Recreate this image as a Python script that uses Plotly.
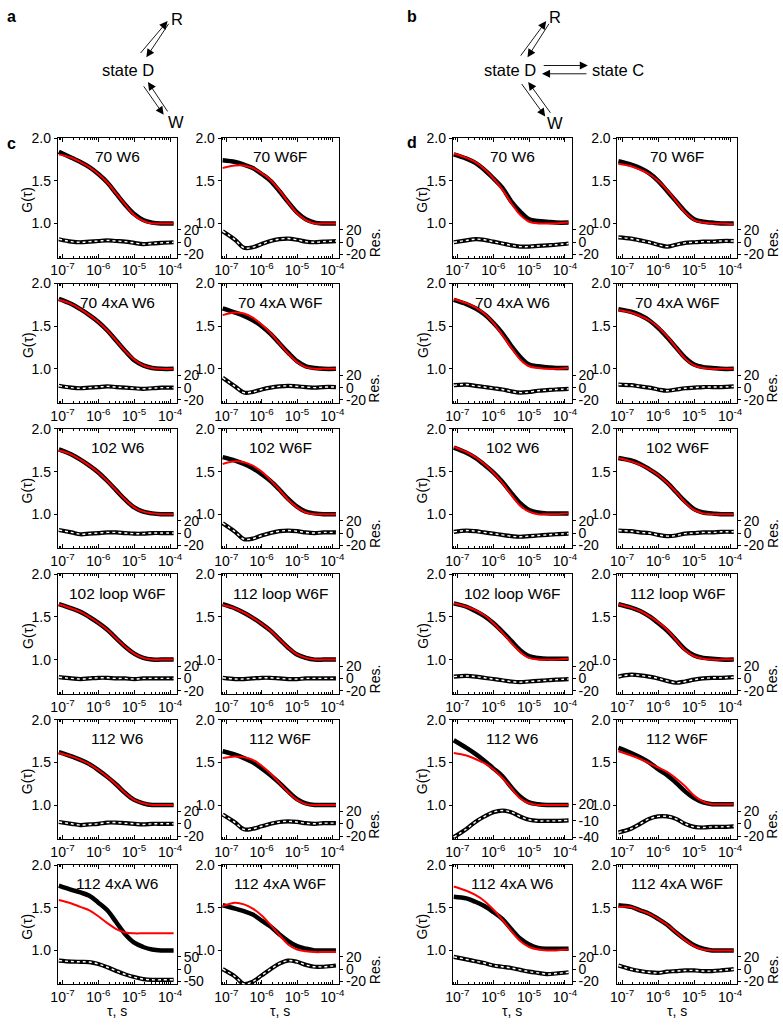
import plotly.graph_objects as go

W, H = 783, 1026
FONT = "Liberation Sans, Arial, sans-serif"

# ---------------- data ----------------
# lag times, s
TAU = [7.9e-8, 1.78e-7, 3.16e-7, 5.62e-7, 1.0e-6, 1.78e-6, 3.16e-6, 5.62e-6,
       1.0e-5, 1.78e-5, 3.16e-5, 5.62e-5, 1.26e-4]

X_TICKS = [1e-7, 1e-6, 1e-5, 1e-4]
X_TICK_TEXT = ["10<sup>-7</sup>", "10<sup>-6</sup>", "10<sup>-5</sup>", "10<sup>-4</sup>"]
G_TICKS = [1.0, 1.5, 2.0]
RES_TICKS_STD = [-20, 0, 20]
RES_TICKS_C6L = [-50, 0, 50]
RES_TICKS_D5L = [-40, -10, 20]

TITLES = ["70 W6", "70 W6F", "70 4xA W6", "70 4xA W6F", "102 W6", "102 W6F",
          "102 loop W6F", "112 loop W6F", "112 W6", "112 W6F", "112 4xA W6", "112 4xA W6F"]

# ---- panel c ----
c1L_G   = [1.84, 1.77, 1.72, 1.66, 1.58, 1.48, 1.35, 1.22, 1.11, 1.04, 1.01, 1.00, 1.00]
c1L_fit = [1.81, 1.77, 1.72, 1.66, 1.58, 1.48, 1.35, 1.22, 1.10, 1.03, 1.00, 1.00, 1.00]
c1L_res = [5, 1, 0, 1, 2, 3, 2, 1, -1, -3, -2, -1, 0]

c1R_G   = [1.74, 1.72, 1.69, 1.65, 1.58, 1.50, 1.38, 1.25, 1.13, 1.05, 1.01, 1.00, 1.00]
c1R_fit = [1.65, 1.68, 1.68, 1.65, 1.59, 1.51, 1.39, 1.25, 1.12, 1.04, 1.00, 1.00, 1.00]
c1R_res = [18, 4, -9, -8, -3, 2, 5, 6, 4, 1, 0, 1, 2]

c2L_G   = [1.82, 1.76, 1.70, 1.63, 1.55, 1.45, 1.33, 1.21, 1.10, 1.04, 1.01, 1.00, 1.00]
c2L_fit = [1.81, 1.76, 1.70, 1.63, 1.55, 1.45, 1.33, 1.21, 1.11, 1.04, 1.01, 1.00, 1.00]
c2L_res = [3, 0, -1, 0, 1, 2, 1, 0, -1, -2, -1, 0, 0]

c2R_G   = [1.71, 1.66, 1.62, 1.57, 1.50, 1.41, 1.30, 1.19, 1.09, 1.03, 1.01, 1.00, 1.00]
c2R_fit = [1.63, 1.66, 1.65, 1.60, 1.52, 1.42, 1.30, 1.18, 1.08, 1.02, 1.00, 1.00, 1.00]
c2R_res = [16, 2, -8, -7, -3, 0, 2, 3, 2, 1, 0, 1, 1]

c3L_G   = [1.76, 1.70, 1.64, 1.57, 1.49, 1.39, 1.28, 1.17, 1.08, 1.03, 1.01, 1.00, 1.00]
c3L_fit = [1.75, 1.70, 1.64, 1.57, 1.49, 1.39, 1.28, 1.17, 1.08, 1.03, 1.01, 1.00, 1.00]
c3L_res = [5, 1, -2, -1, 0, 1, 1, 0, -1, -1, 0, 0, 0]

c3R_G   = [1.67, 1.63, 1.59, 1.54, 1.47, 1.39, 1.29, 1.18, 1.09, 1.03, 1.01, 1.00, 1.00]
c3R_fit = [1.59, 1.62, 1.61, 1.57, 1.50, 1.40, 1.29, 1.17, 1.08, 1.02, 1.00, 1.00, 1.00]
c3R_res = [16, 2, -10, -9, -4, 0, 3, 4, 3, 1, 0, 1, 1]

c4L_G   = [1.65, 1.60, 1.56, 1.50, 1.43, 1.35, 1.25, 1.15, 1.07, 1.02, 1.00, 1.00, 1.00]
c4L_fit = [1.65, 1.60, 1.56, 1.50, 1.43, 1.35, 1.25, 1.15, 1.07, 1.02, 1.00, 1.00, 1.00]
c4L_res = [2, 0, -1, 0, 1, 1, 0, 0, -1, 0, 0, 0, 0]

c4R_G   = [1.65, 1.60, 1.55, 1.49, 1.42, 1.34, 1.24, 1.14, 1.06, 1.02, 1.00, 1.00, 1.00]
c4R_fit = [1.64, 1.60, 1.55, 1.49, 1.42, 1.34, 1.24, 1.14, 1.06, 1.02, 1.00, 1.00, 1.00]
c4R_res = [1, -1, -1, 0, 1, 1, 0, -1, -1, 0, 0, 0, 0]

c5L_G   = [1.62, 1.57, 1.53, 1.48, 1.41, 1.33, 1.24, 1.14, 1.06, 1.02, 1.00, 1.00, 1.00]
c5L_fit = [1.61, 1.57, 1.53, 1.48, 1.41, 1.33, 1.24, 1.14, 1.06, 1.02, 1.00, 1.00, 1.00]
c5L_res = [3, 0, -2, -1, 0, 2, 2, 1, 0, -1, 0, 0, 0]

c5R_G   = [1.63, 1.59, 1.55, 1.50, 1.43, 1.35, 1.26, 1.16, 1.07, 1.02, 1.00, 1.00, 1.00]
c5R_fit = [1.55, 1.57, 1.56, 1.53, 1.46, 1.37, 1.26, 1.15, 1.06, 1.01, 1.00, 1.00, 1.00]
c5R_res = [15, 2, -9, -8, -4, 0, 3, 4, 3, 1, 0, 1, 1]

c6L_G   = [1.76, 1.71, 1.68, 1.64, 1.56, 1.47, 1.33, 1.19, 1.09, 1.04, 1.01, 1.00, 1.00]
c6L_fit = [1.59, 1.55, 1.51, 1.47, 1.40, 1.32, 1.25, 1.21, 1.20, 1.20, 1.20, 1.20, 1.20]
c6L_res = [35, 31, 30, 29, 21, 8, -7, -21, -32, -40, -43, -43, -43]

c6R_G   = [1.53, 1.49, 1.46, 1.42, 1.35, 1.28, 1.19, 1.11, 1.05, 1.02, 1.00, 1.00, 1.00]
c6R_fit = [1.52, 1.56, 1.54, 1.49, 1.41, 1.30, 1.18, 1.07, 1.01, 0.99, 0.98, 0.98, 0.98]
c6R_res = [0, -12, -24, -20, -10, 0, 9, 14, 12, 7, 4, 4, 6]

# ---- panel d ----
d1L_G   = [1.81, 1.76, 1.71, 1.63, 1.53, 1.42, 1.26, 1.14, 1.05, 1.03, 1.02, 1.01, 1.01]
d1L_fit = [1.82, 1.77, 1.72, 1.64, 1.53, 1.40, 1.24, 1.10, 1.02, 1.00, 1.00, 1.00, 1.01]
d1L_res = [0, 3, 5, 4, 1, -2, -5, -7, -7, -6, -5, -4, -2]

d1R_G   = [1.73, 1.69, 1.65, 1.59, 1.50, 1.38, 1.26, 1.14, 1.05, 1.02, 1.01, 1.00, 1.00]
d1R_fit = [1.70, 1.67, 1.63, 1.58, 1.50, 1.39, 1.26, 1.13, 1.04, 1.01, 1.00, 1.00, 0.99]
d1R_res = [8, 6, 3, 0, -4, -7, -4, -1, 0, 1, 1, 2, 2]

d2L_G   = [1.81, 1.76, 1.71, 1.64, 1.54, 1.42, 1.27, 1.14, 1.05, 1.03, 1.02, 1.01, 1.01]
d2L_fit = [1.82, 1.77, 1.72, 1.65, 1.54, 1.40, 1.25, 1.11, 1.03, 1.01, 1.00, 1.00, 1.01]
d2L_res = [4, 5, 3, 1, -1, -3, -6, -8, -7, -5, -4, -3, -2]

d2R_G   = [1.70, 1.67, 1.63, 1.57, 1.48, 1.37, 1.25, 1.13, 1.05, 1.02, 1.01, 1.00, 1.00]
d2R_fit = [1.69, 1.66, 1.62, 1.57, 1.49, 1.38, 1.25, 1.12, 1.04, 1.01, 1.00, 1.00, 1.00]
d2R_res = [5, 4, 2, 0, -3, -5, -3, -1, 0, 1, 1, 1, 2]

d3L_G   = [1.78, 1.72, 1.66, 1.58, 1.49, 1.38, 1.25, 1.13, 1.05, 1.02, 1.01, 1.01, 1.01]
d3L_fit = [1.79, 1.73, 1.67, 1.59, 1.49, 1.37, 1.23, 1.10, 1.03, 1.00, 1.00, 1.00, 1.01]
d3L_res = [2, 4, 3, 1, -1, -3, -5, -6, -5, -4, -3, -2, -1]

d3R_G   = [1.66, 1.63, 1.59, 1.53, 1.46, 1.37, 1.26, 1.15, 1.06, 1.02, 1.01, 1.00, 1.00]
d3R_fit = [1.66, 1.62, 1.58, 1.53, 1.46, 1.37, 1.26, 1.14, 1.05, 1.01, 1.00, 1.00, 1.00]
d3R_res = [4, 3, 1, 0, -3, -5, -4, -1, 0, 1, 1, 2, 2]

d4L_G   = [1.66, 1.62, 1.57, 1.51, 1.43, 1.33, 1.22, 1.11, 1.04, 1.02, 1.01, 1.01, 1.01]
d4L_fit = [1.66, 1.62, 1.58, 1.52, 1.43, 1.32, 1.20, 1.09, 1.02, 1.00, 1.00, 1.00, 1.01]
d4L_res = [3, 4, 3, 1, -1, -3, -5, -6, -5, -4, -3, -2, -1]

d4R_G   = [1.65, 1.61, 1.57, 1.51, 1.43, 1.34, 1.23, 1.12, 1.05, 1.02, 1.01, 1.00, 1.00]
d4R_fit = [1.65, 1.61, 1.57, 1.51, 1.44, 1.35, 1.23, 1.11, 1.04, 1.01, 1.00, 1.00, 1.00]
d4R_res = [3, 6, 5, 3, 0, -4, -7, -5, -2, 0, 1, 1, 2]

d5L_G   = [1.76, 1.67, 1.60, 1.52, 1.43, 1.34, 1.21, 1.10, 1.03, 1.01, 1.00, 1.00, 1.00]
d5L_fit = [1.61, 1.58, 1.54, 1.49, 1.42, 1.32, 1.20, 1.08, 1.02, 1.00, 1.00, 1.00, 1.00]
d5L_res = [-40, -25, -12, -2, 6, 9, 6, -2, -8, -10, -10, -10, -9]

d5R_G   = [1.67, 1.61, 1.56, 1.50, 1.42, 1.35, 1.26, 1.16, 1.08, 1.03, 1.01, 1.01, 1.01]
d5R_fit = [1.63, 1.58, 1.54, 1.49, 1.44, 1.39, 1.31, 1.22, 1.11, 1.04, 1.01, 1.01, 1.01]
d5R_res = [-14, -8, 0, 8, 12, 12, 8, 0, -5, -6, -5, -5, -4]

d6L_G   = [1.63, 1.61, 1.57, 1.52, 1.45, 1.37, 1.25, 1.14, 1.07, 1.03, 1.02, 1.02, 1.02]
d6L_fit = [1.75, 1.70, 1.65, 1.58, 1.48, 1.36, 1.23, 1.11, 1.04, 1.01, 1.00, 1.00, 1.01]
d6L_res = [20, 16, 13, 10, 6, 4, 2, -1, -4, -6, -8, -7, -5]

d6R_G   = [1.53, 1.51, 1.47, 1.43, 1.37, 1.30, 1.21, 1.13, 1.06, 1.02, 1.00, 1.00, 1.00]
d6R_fit = [1.51, 1.51, 1.47, 1.43, 1.37, 1.30, 1.21, 1.12, 1.05, 1.01, 1.00, 1.00, 1.00]
d6R_res = [6, 0, -3, -5, -6, -4, -3, -2, -2, -3, -3, -2, 0]

# ---------------- layout geometry (pixels) ----------------
COLS = [(51.7, 172.7), (218.3, 337.7), (453.3, 574.3), (620.7, 742.3)]
ROW_TOP0, ROW_STEP, BOX_H = 132.0, 147.4, 121.0
RES_TOP = 80.0  # residual axis domain starts this far below box top
RANGE_STD = [-24.8, 40.8]
RANGE_C6L = [-62.0, 102.0]
RANGE_D5L = [-43.6, 30.9]

panels = []
data_c = [(c1L_G, c1L_fit, c1L_res), (c1R_G, c1R_fit, c1R_res),
          (c2L_G, c2L_fit, c2L_res), (c2R_G, c2R_fit, c2R_res),
          (c3L_G, c3L_fit, c3L_res), (c3R_G, c3R_fit, c3R_res),
          (c4L_G, c4L_fit, c4L_res), (c4R_G, c4R_fit, c4R_res),
          (c5L_G, c5L_fit, c5L_res), (c5R_G, c5R_fit, c5R_res),
          (c6L_G, c6L_fit, c6L_res), (c6R_G, c6R_fit, c6R_res)]
data_d = [(d1L_G, d1L_fit, d1L_res), (d1R_G, d1R_fit, d1R_res),
          (d2L_G, d2L_fit, d2L_res), (d2R_G, d2R_fit, d2R_res),
          (d3L_G, d3L_fit, d3L_res), (d3R_G, d3R_fit, d3R_res),
          (d4L_G, d4L_fit, d4L_res), (d4R_G, d4R_fit, d4R_res),
          (d5L_G, d5L_fit, d5L_res), (d5R_G, d5R_fit, d5R_res),
          (d6L_G, d6L_fit, d6L_res), (d6R_G, d6R_fit, d6R_res)]

for half, dset in (("c", data_c), ("d", data_d)):
    for k, (g, f, r) in enumerate(dset):
        row, side = divmod(k, 2)
        col = (0 if half == "c" else 2) + side
        rng, rticks = RANGE_STD, RES_TICKS_STD
        if half == "c" and row == 5 and side == 0:
            rng, rticks = RANGE_C6L, RES_TICKS_C6L
        if half == "d" and row == 4 and side == 0:
            rng, rticks = RANGE_D5L, RES_TICKS_D5L
        panels.append(dict(G=g, fit=f, res=r, title=TITLES[k], row=row, side=side,
                           col=col, rrange=rng, rticks=rticks))

minor_vals = [m * 10.0 ** e for e in range(-8, -3) for m in range(2, 10)]

fig = go.Figure()
layout = {}
annotations = []

def fx(px):
    return px / W

def fy(py):
    return 1 - py / H

for i, p in enumerate(panels, start=1):
    xa, yg, yr = f"x{i}", f"y{2*i-1}", f"y{2*i}"
    x0, x1 = COLS[p["col"]]
    T = ROW_TOP0 + ROW_STEP * p["row"]

    fig.add_trace(go.Scatter(x=TAU, y=p["res"], xaxis=xa, yaxis=yr, mode="lines",
                             line=dict(color="black", width=4.2, shape="spline"),
                             hoverinfo="skip", showlegend=False))
    fig.add_trace(go.Scatter(x=TAU, y=p["res"], xaxis=xa, yaxis=yr, mode="lines",
                             line=dict(color="white", width=1.4, shape="spline", dash="dot"),
                             hoverinfo="skip", showlegend=False))
    fig.add_trace(go.Scatter(x=TAU, y=p["G"], xaxis=xa, yaxis=yg, mode="lines",
                             line=dict(color="black", width=4.5, shape="spline"),
                             hoverinfo="skip", showlegend=False))
    fig.add_trace(go.Scatter(x=TAU, y=p["fit"], xaxis=xa, yaxis=yg, mode="lines",
                             line=dict(color="#ff0000", width=2, shape="spline"),
                             hoverinfo="skip", showlegend=False))

    layout[f"xaxis{i}"] = dict(
        type="log", range=[-7.13, -3.81], domain=[fx(x0), fx(x1)], anchor=yg,
        tickmode="array", tickvals=X_TICKS, ticktext=X_TICK_TEXT, tickangle=0,
        ticks="inside", ticklen=4, tickcolor="black", showline=True, linecolor="black",
        linewidth=1, mirror="ticks", showgrid=False, zeroline=False,
        tickfont=dict(size=14, color="black", family=FONT),
        minor=dict(tickmode="array", tickvals=minor_vals, ticks="inside", ticklen=2,
                   tickcolor="black", showgrid=False))
    layout[f"yaxis{2*i-1}"] = dict(
        domain=[fy(T + BOX_H), fy(T)], range=[0.6, 2.0], anchor=xa,
        tickmode="array", tickvals=G_TICKS, ticktext=["1.0", "1.5", "2.0"],
        ticks="outside", ticklen=3, tickcolor="black", showline=True, mirror=True,
        linecolor="black", linewidth=1, showgrid=False, zeroline=False,
        tickfont=dict(size=14, color="black", family=FONT))
    layout[f"yaxis{2*i}"] = dict(
        domain=[fy(T + BOX_H), fy(T + RES_TOP)], range=p["rrange"], anchor=xa, side="right",
        tickmode="array", tickvals=p["rticks"], ticktext=[str(v) for v in p["rticks"]],
        ticks="outside", ticklen=3,
        tickcolor="black", showline=True, linecolor="black", linewidth=1,
        showgrid=False, zeroline=False,
        tickfont=dict(size=14, color="black", family=FONT))

    annotations.append(dict(x=fx((x0 + x1) / 2), y=fy(T + 19), xref="paper", yref="paper",
                            text=p["title"], showarrow=False, xanchor="center", yanchor="middle",
                            font=dict(size=15.5, color="black", family=FONT)))
    if p["side"] == 0:
        annotations.append(dict(x=fx(x0 - 31), y=fy(T + 62), xref="paper", yref="paper",
                                text="G(τ)", showarrow=False, textangle=-90,
                                xanchor="center", yanchor="middle",
                                font=dict(size=14, color="black", family=FONT)))
    else:
        annotations.append(dict(x=fx(x1 + 36), y=fy(T + 106), xref="paper", yref="paper",
                                text="Res.", showarrow=False, textangle=-90,
                                xanchor="center", yanchor="middle",
                                font=dict(size=14, color="black", family=FONT)))
    if p["row"] == 5:
        annotations.append(dict(x=fx((x0 + x1) / 2), y=fy(1017), xref="paper", yref="paper",
                                text="τ, s", showarrow=False, xanchor="center", yanchor="middle",
                                font=dict(size=14, color="black", family=FONT)))

# panel letters
for letter, (lx, ly) in {"a": (5, 9), "b": (412, 9), "c": (5, 137), "d": (412, 136)}.items():
    annotations.append(dict(x=fx(lx), y=fy(ly), xref="paper", yref="paper", text=f"<b>{letter}</b>",
                            showarrow=False, xanchor="center", yanchor="middle",
                            font=dict(size=16, color="black", family=FONT)))

# kinetic schemes
scheme_text = [("state D", 123, 63), ("R", 172.5, 11), ("W", 172, 116),
               ("state D", 512, 63), ("state C", 621, 63), ("R", 557, 9), ("W", 557, 117)]
for t, tx, ty in scheme_text:
    annotations.append(dict(x=fx(tx), y=fy(ty), xref="paper", yref="paper", text=t,
                            showarrow=False, xanchor="center", yanchor="middle",
                            font=dict(size=16.5, color="black", family=FONT)))

# arrows: (tail_x, tail_y, head_x, head_y) in pixels
arrows = [(135, 46.7, 163.3, 13.3), (165, 15, 141.7, 50),
          (138.3, 78.3, 159.3, 108.3), (164, 106, 143.3, 75),
          (521.7, 49.3, 548.3, 13.3), (551.7, 15, 529.3, 50),
          (545, 58.3, 590.7, 58.3), (590, 66.7, 544, 66.7),
          (522.7, 76, 547.3, 110), (553.3, 107.3, 530, 75)]
for tx, ty, hx, hy in arrows:
    annotations.append(dict(x=fx(hx), y=fy(hy), xref="paper", yref="paper", text="",
                            showarrow=True, ax=tx - hx, ay=ty - hy, axref="pixel", ayref="pixel",
                            arrowhead=2, arrowsize=1.8, arrowwidth=0.9, arrowcolor="black",
                            standoff=0, startstandoff=0))

fig.update_layout(width=W, height=H, margin=dict(l=0, r=0, t=0, b=0),
                  paper_bgcolor="white", plot_bgcolor="rgba(0,0,0,0)", showlegend=False,
                  font=dict(family=FONT, color="black"), annotations=annotations, **layout)

fig.write_html("out.html", config={"displayModeBar": False},
               post_script="document.documentElement.style.margin='0';"
                           "document.body.style.margin='0';"
                           "document.body.style.padding='0';"
                           "document.body.style.overflow='hidden';"
                           "document.documentElement.style.overflow='hidden';")
